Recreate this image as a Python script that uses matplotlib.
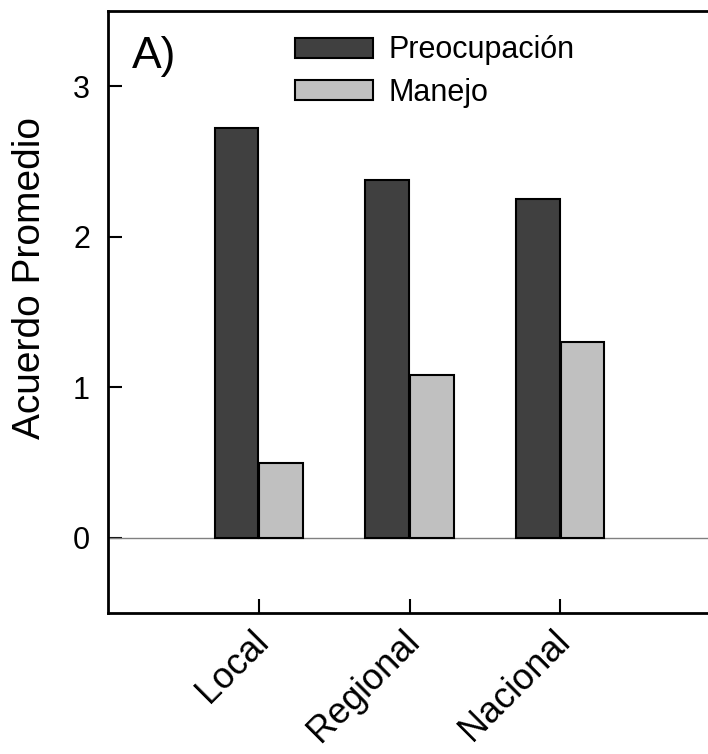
import matplotlib
matplotlib.use("Agg")
import matplotlib.pyplot as plt
import matplotlib.transforms as mtransforms
import numpy as np

plt.rcParams['font.family'] = ['Liberation Sans', 'DejaVu Sans']

categorias = ["Local", "Regional", "Nacional"]
preocupacion = [2.72, 2.38, 2.25]
manejo = [0.50, 1.08, 1.30]

fig = plt.figure(figsize=(7.08, 7.54), dpi=100)
ax = fig.add_axes([108/708, 141/754, 603/708, 602/754])

x = np.arange(1, len(categorias) + 1)
w = 0.29
ax.bar(x - w/2 - 0.003, preocupacion, w, color='#404040', edgecolor='black', linewidth=1.5, label='Preocupación', zorder=3)
ax.bar(x + w/2 + 0.003, manejo, w, color='#c0c0c0', edgecolor='black', linewidth=1.5, label='Manejo', zorder=3)
ax.axhline(0, color='#808080', linewidth=1, zorder=2)

ax.set_xlim(0, 4)
ax.set_ylim(-0.5, 3.5)
ax.set_yticks([0, 1, 2, 3])
ax.set_xticks(x)
ax.set_xticklabels(categorias, rotation=45, ha='right', rotation_mode='anchor', fontsize=26)
ax.tick_params(axis='y', direction='in', length=10, width=1.5, labelsize=22, pad=13)
ax.tick_params(axis='x', direction='in', length=10, width=1.5, pad=8)
# desplazar un poco las etiquetas giradas hacia la izquierda
desplazar = mtransforms.ScaledTranslation(-8/100, 0, fig.dpi_scale_trans)
for etiqueta in ax.get_xticklabels():
    etiqueta.set_transform(etiqueta.get_transform() + desplazar)
for s in ax.spines.values():
    s.set_linewidth(2)
ax.spines['right'].set_visible(False)

ax.set_ylabel("Acuerdo Promedio", fontsize=28, labelpad=0)
ax.yaxis.set_label_coords(-0.1, 0.556)
ax.text(0.04, 0.925, "A)", transform=ax.transAxes, fontsize=32, va='center', ha='left')

ax.legend(loc='upper left', bbox_to_anchor=(0.265, 1.005), frameon=False, fontsize=22,
          handlelength=2.55, handleheight=0.65, handletextpad=0.5, labelspacing=0.4)

fig.savefig("out.png", dpi=100)
